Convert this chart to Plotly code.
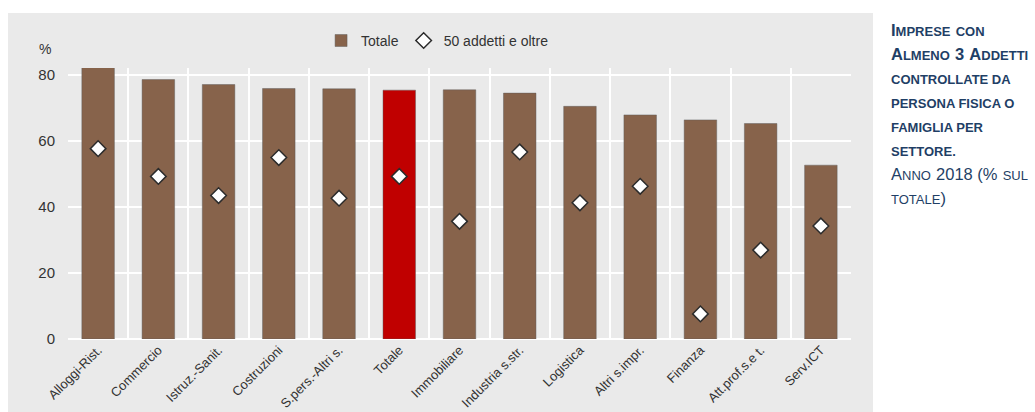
import plotly.graph_objects as go

# Sector data (% of firms with at least 3 employees controlled by a person or family)
categories = [
    "Alloggi-Rist.", "Commercio", "Istruz.-Sanit.", "Costruzioni", "S.pers.-Altri s.",
    "Totale", "Immobiliare", "Industria s.str.", "Logistica", "Altri s.impr.",
    "Finanza", "Att.prof.s.e t.", "Serv.ICT",
]
totale = [82.4, 78.5, 77.0, 75.8, 75.7, 75.3, 75.4, 74.4, 70.4, 67.8, 66.3, 65.2, 52.6]
oltre_50 = [57.6, 49.2, 43.4, 54.9, 42.6, 49.2, 35.6, 56.6, 41.2, 46.2, 7.6, 26.9, 34.2]

BROWN = "#87634B"
RED = "#C00000"
PANEL = "#EAEAEA"
TEXT = "#333333"
TITLE = "#1F3F66"

bar_colors = [RED if c == "Totale" else BROWN for c in categories]

fig = go.Figure()
fig.add_trace(go.Bar(
    x=categories, y=totale, name="Totale",
    marker=dict(color=bar_colors, line=dict(color="rgba(90,90,90,0.45)", width=1)),
    cliponaxis=False,
))
fig.add_trace(go.Scatter(
    x=categories, y=oltre_50, name="50 addetti e oltre", mode="markers",
    marker=dict(symbol="diamond", size=12, color="white",
                line=dict(color="#2b2b2b", width=1.5)),
    cliponaxis=False,
))

# grey panel behind chart
fig.add_shape(type="rect", xref="paper", yref="paper", layer="below",
              x0=-0.0766, x1=1.0281, y0=-0.27, y1=1.203,
              fillcolor=PANEL, line=dict(width=0))

fig.add_annotation(text="%", xref="paper", yref="paper", x=-0.03, y=1.07,
                   xanchor="center", yanchor="middle", showarrow=False,
                   font=dict(size=14, color=TEXT))

BIG, SMALL = 16.5, 13


def sc(word):
    """Small-caps style: larger leading glyph, smaller remaining capitals."""
    head, tail = word[0], word[1:]
    piece = f"<span style='font-size:{BIG}px'>{head}</span>"
    if tail:
        piece += f"<span style='font-size:{SMALL}px'>{tail}</span>"
    return piece


def caps(text):
    return f"<span style='font-size:{SMALL}px'>{text}</span>"


def big(text):
    return f"<span style='font-size:{BIG}px'>{text}</span>"


title_html = (
    "<b>" + sc("IMPRESE") + " " + caps("CON") + "<br>"
    + sc("ALMENO") + " " + big("3") + " " + sc("ADDETTI") + "<br>"
    + caps("CONTROLLATE DA") + "<br>"
    + caps("PERSONA FISICA O") + "<br>"
    + caps("FAMIGLIA PER") + "<br>"
    + caps("SETTORE.") + "</b><br>"
    + sc("ANNO") + " " + big("2018 (%") + " " + caps("SUL") + "<br>"
    + caps("TOTALE") + big(")")
)
fig.add_annotation(text=title_html, xref="paper", yref="paper", x=1.048, y=1.19,
                   xanchor="left", yanchor="top", align="left", showarrow=False,
                   font=dict(size=18.5, color=TITLE,
                             family="Liberation Sans, Arial, sans-serif"))

fig.update_layout(
    width=1035, height=412,
    margin=dict(l=68, r=184, t=68, b=73),
    paper_bgcolor="white", plot_bgcolor=PANEL,
    font=dict(family="Liberation Sans, Arial, sans-serif", color=TEXT, size=13),
    bargap=0.46,
    showlegend=True,
    legend=dict(orientation="h", x=0.472, y=1.1, xanchor="center", yanchor="middle",
                bgcolor="rgba(0,0,0,0)", font=dict(size=14, color=TEXT),
                itemwidth=30),
    xaxis=dict(type="category", range=[-0.5, len(categories) - 0.5],
               tickson="boundaries", showgrid=True,
               gridcolor="white", gridwidth=2, tickangle=-45, ticks="",
               tickfont=dict(size=13, color=TEXT), zeroline=False,
               showline=False, automargin=False),
    yaxis=dict(range=[0, 82], tickvals=[0, 20, 40, 60, 80], showgrid=True,
               gridcolor="white", gridwidth=2, zeroline=True, zerolinecolor="white",
               zerolinewidth=2, tickfont=dict(size=15, color=TEXT),
               ticklabelstandoff=12, ticks="", automargin=False),
)

fig.write_html("out.html")
